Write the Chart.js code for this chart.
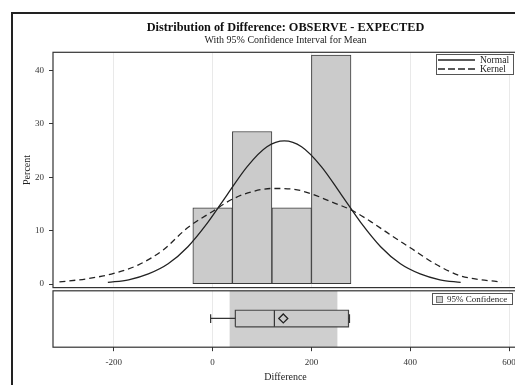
<!DOCTYPE html>
<html>
<head>
<meta charset="utf-8">
<script src="https://cdn.jsdelivr.net/npm/chart.js@4.4.0/dist/chart.umd.min.js"></script>
<style>
  html, body { margin: 0; padding: 0; background: #fff; overflow: hidden; }
  body { width: 515px; height: 385px; position: relative; }
  #frame { position: absolute; left: 11px; top: 12px; width: 700px; height: 500px; border-left: 2px solid #222; border-top: 2px solid #222; }
  #histChart { position: absolute; left: 0; top: 0; }
  #boxChart { position: absolute; left: 0; top: 285px; }
</style>
</head>
<body>
<div id="frame"></div>
<canvas id="histChart" width="560" height="298"></canvas>
<canvas id="boxChart" width="560" height="104"></canvas>
<script>
// Histogram bins (midpoints) and percent of observations
const binMid = [0, 80, 160, 240];
const binPercent = [14.29, 28.57, 14.29, 42.86];

// Fitted normal curve
const normalX = [-212, -170, -130, -90, -50, -10, 30, 70, 110, 145, 180, 220, 260, 300, 340, 380, 420, 460, 502];
const normalY = [0.3, 0.8, 1.9, 3.8, 7.0, 11.5, 16.8, 22.0, 25.7, 26.8, 25.7, 22.0, 16.8, 11.5, 7.0, 3.8, 1.9, 0.8, 0.3];

// Kernel density curve
const kernelX = [-310, -250, -200, -150, -100, -50, 0, 40, 80, 120, 160, 200, 240, 280, 320, 360, 400, 450, 500, 540, 585];
const kernelY = [0.4, 1.05, 2.0, 3.6, 6.4, 10.6, 13.6, 15.9, 17.3, 17.9, 17.8, 16.9, 15.4, 13.9, 11.7, 9.2, 6.8, 3.8, 1.6, 0.85, 0.4];

// Box plot summary and 95% CI for the mean
const whiskerLow = -4;
const q1 = 46;
const median = 125;
const q3 = 275;
const whiskerHigh = 277;
const meanValue = 143;
const ciMean = [34, 253];

// Axis ticks
const xTicks = [-200, 0, 200, 400, 600];
const yTicks = [0, 10, 20, 30, 40];

const xMin = -323, xMax = 618;
const serif = "'Liberation Serif', 'Times New Roman', serif";
const ink = '#222';

// Stroke the plot frame around the chart area
const frameBox = {
  id: 'frameBox',
  afterDraw(chart) {
    const a = chart.chartArea, ctx = chart.ctx;
    ctx.save();
    ctx.strokeStyle = '#333';
    ctx.lineWidth = 1.2;
    ctx.strokeRect(a.left, a.top, a.right - a.left, a.bottom - a.top);
    ctx.restore();
  }
};

// Boxed legend inside the top right corner of the plot
const insetLegend = {
  id: 'insetLegend',
  afterDraw(chart, args, opts) {
    const a = chart.chartArea, ctx = chart.ctx;
    const x = Math.round(a.right - opts.right - opts.width), y = Math.round(a.top + opts.top);
    ctx.save();
    ctx.fillStyle = '#fff';
    ctx.fillRect(x, y, opts.width, opts.height);
    ctx.strokeStyle = '#555';
    ctx.lineWidth = 1;
    ctx.strokeRect(x + 0.5, y + 0.5, opts.width, opts.height);
    ctx.font = opts.fontSize + 'px ' + serif;
    ctx.textBaseline = 'middle';
    opts.items.forEach((it, i) => {
      const cy = y + opts.rowTop + i * opts.rowGap;
      if (it.swatch) {
        ctx.fillStyle = it.swatch;
        ctx.fillRect(x + 4, cy - 3, 6, 6);
        ctx.strokeStyle = '#777';
        ctx.strokeRect(x + 4.5, cy - 2.5, 6, 6);
      } else {
        ctx.strokeStyle = ink;
        ctx.lineWidth = 1.4;
        ctx.setLineDash(it.dash || []);
        ctx.beginPath();
        ctx.moveTo(x + 2, cy);
        ctx.lineTo(x + 39, cy);
        ctx.stroke();
        ctx.setLineDash([]);
      }
      ctx.fillStyle = ink;
      ctx.fillText(it.text, x + opts.textX, cy + 0.5);
    });
    ctx.restore();
  }
};

const setXTicks = s => { s.ticks = xTicks.map(v => ({ value: v })); };

new Chart(document.getElementById('histChart'), {
  type: 'bar',
  data: {
    datasets: [{
      type: 'line',
      label: 'Normal',
      data: normalX.map((x, i) => ({ x: x, y: normalY[i] })),
      borderColor: ink,
      borderWidth: 1.3,
      pointRadius: 0,
      cubicInterpolationMode: 'monotone',
      fill: false,
      order: 1
    }, {
      type: 'line',
      label: 'Kernel',
      data: kernelX.map((x, i) => ({ x: x, y: kernelY[i] })),
      borderColor: ink,
      borderWidth: 1.3,
      borderDash: [6, 4],
      pointRadius: 0,
      cubicInterpolationMode: 'monotone',
      fill: false,
      order: 2
    }, {
      type: 'bar',
      label: 'Percent',
      data: binMid.map((x, i) => ({ x: x, y: binPercent[i] })),
      backgroundColor: '#cbcbcb',
      borderColor: '#3a3a3a',
      borderWidth: 1,
      borderSkipped: false,
      barPercentage: 1,
      categoryPercentage: 1,
      order: 3
    }]
  },
  options: {
    responsive: false,
    animation: false,
    layout: { padding: { left: 12, right: 42, top: 0, bottom: 3 } },
    plugins: {
      legend: { display: false },
      tooltip: { enabled: false },
      title: {
        display: true,
        text: 'Distribution of Difference: OBSERVE - EXPECTED',
        fullSize: false,
        color: '#111',
        font: { family: serif, size: 12.3, weight: 'bold', lineHeight: 1 },
        padding: { top: 22, bottom: 0 }
      },
      subtitle: {
        display: true,
        text: 'With 95% Confidence Interval for Mean',
        fullSize: false,
        color: ink,
        font: { family: serif, size: 10, lineHeight: 1.2 },
        padding: { top: 0, bottom: 6 }
      },
      insetLegend: {
        width: 77, height: 20, right: 5, top: 2, rowTop: 6, rowGap: 9, textX: 44, fontSize: 9.5,
        items: [{ text: 'Normal' }, { text: 'Kernel', dash: [7, 3] }]
      }
    },
    scales: {
      x: {
        type: 'linear',
        min: xMin,
        max: xMax,
        offset: false,
        afterBuildTicks: setXTicks,
        ticks: { display: false },
        grid: { color: '#e9e9e9', drawTicks: false, offset: false },
        border: { display: false }
      },
      y: {
        min: -0.66,
        max: 43.4,
        afterBuildTicks: s => { s.ticks = yTicks.map(v => ({ value: v })); },
        afterFit: s => { s.width = 41; },
        ticks: { color: '#333', padding: 5, font: { family: serif, size: 9 } },
        grid: { drawOnChartArea: false, tickLength: 4, tickColor: '#333' },
        border: { display: false },
        title: {
          display: true,
          text: 'Percent',
          color: ink,
          font: { family: serif, size: 10 },
          padding: { top: 9, bottom: 0 }
        }
      }
    }
  },
  plugins: [frameBox, insetLegend]
});

const seg = (pts, extra) => Object.assign({
  data: pts,
  showLine: true,
  borderColor: '#333',
  borderWidth: 1.2,
  pointRadius: 0,
  fill: false
}, extra || {});

const boxTop = 0.655, boxBottom = 0.362, mid = 0.51, capTop = 0.586, capBottom = 0.43;

new Chart(document.getElementById('boxChart'), {
  type: 'scatter',
  data: {
    datasets: [
      // mean marker
      {
        data: [{ x: meanValue, y: mid }],
        pointStyle: 'rectRot',
        pointRadius: 4.5,
        pointBorderColor: ink,
        pointBackgroundColor: 'rgba(0,0,0,0)',
        pointBorderWidth: 1.3,
        showLine: false,
        order: 0
      },
      seg([{ x: median, y: boxBottom }, { x: median, y: boxTop }], { order: 1 }),
      seg([{ x: whiskerLow, y: mid }, { x: q1, y: mid }], { order: 1 }),
      seg([{ x: q3, y: mid }, { x: whiskerHigh, y: mid }], { order: 1 }),
      seg([{ x: whiskerLow, y: capBottom }, { x: whiskerLow, y: capTop }], { order: 1 }),
      seg([{ x: whiskerHigh, y: capBottom }, { x: whiskerHigh, y: capTop }], { order: 1 }),
      // box
      seg([{ x: q1, y: boxBottom }, { x: q1, y: boxTop }, { x: q3, y: boxTop }, { x: q3, y: boxBottom }, { x: q1, y: boxBottom }],
        { fill: 'shape', backgroundColor: '#cbcbcb', borderColor: '#444', order: 2 }),
      // 95% confidence band for the mean
      seg([{ x: ciMean[0], y: 1 }, { x: ciMean[1], y: 1 }],
        { fill: 'start', backgroundColor: '#cfcfcf', borderWidth: 0, order: 3 })
    ]
  },
  options: {
    responsive: false,
    animation: false,
    layout: { padding: { left: 53, right: 42, top: 1, bottom: 9 } },
    plugins: {
      legend: { display: false },
      tooltip: { enabled: false },
      insetLegend: {
        width: 80, height: 11, right: 6, top: 2, rowTop: 6, rowGap: 0, textX: 15, fontSize: 9,
        items: [{ text: '95% Confidence', swatch: '#cfcfcf' }]
      }
    },
    scales: {
      x: {
        type: 'linear',
        min: xMin,
        max: xMax,
        afterBuildTicks: setXTicks,
        ticks: { color: '#333', padding: 6, font: { family: serif, size: 9 } },
        grid: { color: '#e9e9e9', tickLength: 4, tickColor: '#333' },
        border: { display: false },
        title: {
          display: true,
          text: 'Difference',
          color: ink,
          font: { family: serif, size: 10, lineHeight: 0.6 },
          padding: { top: 0, bottom: 0 }
        }
      },
      y: { display: false, min: 0, max: 1 }
    }
  },
  plugins: [frameBox, insetLegend]
});
</script>
</body>
</html>
